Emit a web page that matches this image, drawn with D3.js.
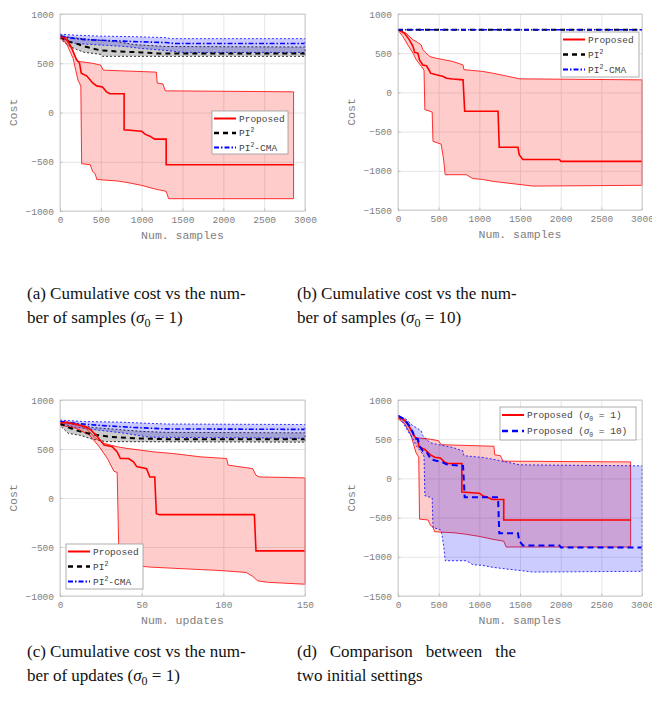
<!DOCTYPE html>
<html>
<head>
<meta charset="utf-8">
<script src="https://cdn.jsdelivr.net/npm/d3@7"></script>
<style>
  body { margin: 0; background: #fff; }
  svg { display: block; }
</style>
</head>
<body>
<svg id="fig" width="652" height="715"></svg>
<script>
// ---- data: [x, cost] points ----
// (a) / (d) sigma0 = 1, x in samples
const aPropMed = [[0,770],[50,760],[100,720],[150,640],[200,540],[240,500],[260,400],[330,370],[370,330],[400,300],[450,270],[520,260],[570,210],[610,190],[785,190],[785,-175],[1000,-190],[1040,-220],[1100,-240],[1160,-270],[1300,-270],[1300,-530],[2860,-530]];
const aPropUp = [[0,780],[80,760],[130,680],[170,600],[210,520],[400,500],[500,480],[530,430],[1180,410],[1190,300],[1260,290],[1290,220],[2860,210]];
const aPropLow = [[0,760],[80,700],[160,550],[220,330],[255,270],[265,-520],[370,-530],[400,-600],[430,-620],[450,-680],[700,-695],[820,-710],[1000,-740],[1180,-780],[1300,-800],[1330,-875],[2860,-875]];
const aPi2Med = [[0,770],[100,720],[200,700],[300,670],[400,650],[500,630],[700,620],[1000,610],[1200,600],[3000,600]];
const aPi2Up = [[0,780],[150,760],[400,740],[700,720],[900,690],[1100,680],[1300,670],[3000,665]];
const aPi2Low = [[0,750],[100,680],[200,640],[300,610],[500,590],[520,570],[3000,570]];
const aCmaMed = [[0,780],[100,760],[300,740],[600,730],[900,720],[1300,710],[1400,700],[3000,700]];
const aCmaUp = [[0,795],[200,785],[500,775],[900,770],[1300,760],[1350,750],[3000,750]];
const aCmaLow = [[0,760],[100,720],[200,700],[400,690],[800,670],[1000,650],[1300,630],[1500,610],[3000,610]];

// (b) / (d) sigma0 = 10, x in samples
const bPropMed = [[0,800],[80,755],[140,670],[185,585],[205,510],[245,500],[265,415],[305,350],[350,340],[390,270],[400,245],[470,225],[550,205],[595,180],[675,170],[800,160],[820,-240],[1230,-240],[1245,-700],[1475,-700],[1490,-795],[1535,-855],[1985,-855],[2005,-880],[3000,-880]];
const bPropUp = [[0,800],[100,755],[185,670],[225,648],[285,606],[305,545],[350,500],[390,457],[470,436],[675,394],[800,350],[810,290],[1045,267],[1165,245],[1330,210],[1495,173],[3000,160]];
const bPropLow = [[0,795],[60,712],[120,606],[185,500],[225,415],[290,330],[320,280],[330,-220],[420,-250],[430,-625],[530,-660],[560,-850],[580,-1050],[840,-1050],[920,-1100],[1040,-1110],[1170,-1135],[1330,-1155],[1500,-1175],[1660,-1195],[3000,-1185]];
const bPi2Med = [[0,800],[3000,800]];
const bCmaMed = [[0,800],[3000,800]];

// (c) sigma0 = 1, x in updates
const cPropMed = [[0,765],[4,772],[10,750],[16,727],[19,693],[22,642],[27,540],[32,523],[35,470],[37,403],[42,403],[45,370],[47,320],[53,300],[55,215],[58,215],[59,-160],[61,-170],[119,-170],[120,-540],[150,-540]];
const cPropUp = [[0,780],[10,762],[16,710],[22,608],[27,557],[35,523],[41,506],[49,489],[57,471],[69,454],[86,420],[102,403],[103,335],[118,300],[120,232],[122,215],[150,205]];
const cPropLow = [[0,745],[10,710],[18,642],[24,523],[29,403],[33,274],[35,260],[36,-550],[40,-680],[55,-705],[73,-720],[98,-740],[114,-760],[118,-800],[121,-845],[127,-860],[150,-880]];
const cPi2Med = [[0,760],[5,720],[12,680],[20,650],[30,625],[45,610],[65,600],[150,600]];
const cPi2Up = [[0,775],[10,750],[20,720],[35,700],[50,680],[65,670],[150,665]];
const cPi2Low = [[0,740],[5,660],[12,640],[20,600],[28,575],[150,570]];
const cCmaMed = [[0,780],[10,760],[25,740],[45,720],[65,705],[150,700]];
const cCmaUp = [[0,795],[15,780],[35,775],[65,755],[150,750]];
const cCmaLow = [[0,760],[10,720],[25,690],[40,660],[55,620],[150,610]];

// ticks
const sampleTicks = [0, 500, 1000, 1500, 2000, 2500, 3000];
const updateTicks = [0, 50, 100, 150];
const costTicksA = [-1000, -500, 0, 500, 1000];
const costTicksB = [-1500, -1000, -500, 0, 500, 1000];

const mono = "'Liberation Mono', 'Courier New', monospace";
const serif = "'Liberation Serif', 'Times New Roman', Times, serif";
const gridColor = "#e6e6e6";
const boxColor = "#c0c0c0";
const tickText = "#808080";

const RED = "#ff0000", BLUE = "#0000ff", BLACK = "#000000";

const svg = d3.select("#fig");

// styles for the three methods
const prop = { color: RED, width: 1.6, dash: null, edgeDash: null, fill: "rgba(255,0,0,0.2)" };
const pi2 = { color: BLACK, width: 2, dash: "5,4", edgeDash: "2,2", fill: "rgba(0,0,0,0.2)" };
const cma = { color: BLUE, width: 1.6, dash: "5,2,1.5,2", edgeDash: "2,2", fill: "rgba(0,0,255,0.2)" };
const prop10 = { color: BLUE, width: 2, dash: "6,4", edgeDash: "2,2", fill: "rgba(0,0,255,0.2)" };

function addLabel(sel, parts) {
  parts.forEach(([t, kind]) => {
    const ts = sel.append("tspan").text(t);
    if (kind === "sup") ts.attr("font-size", "6.5px").attr("baseline-shift", "4px");
    if (kind === "sub") ts.attr("font-size", "6.5px").attr("baseline-shift", "-3px");
    if (kind === "it") ts.attr("font-style", "italic").attr("font-family", serif).attr("font-size", "10.5px");
  });
}

function panel(p) {
  const g = svg.append("g");
  const x = d3.scaleLinear().domain(p.xDomain).range([p.left, p.right]);
  const y = d3.scaleLinear().domain(p.yDomain).range([p.bottom, p.top]);
  const w = p.right - p.left, h = p.bottom - p.top;
  const fmt = d3.format("d");

  // grid
  g.append("g")
    .attr("transform", `translate(0,${p.bottom})`)
    .call(d3.axisBottom(x).tickValues(p.xTicks).tickSize(-h).tickFormat(""))
    .call(s => s.select(".domain").remove())
    .selectAll("line").attr("stroke", gridColor);
  g.append("g")
    .attr("transform", `translate(${p.left},0)`)
    .call(d3.axisLeft(y).tickValues(p.yTicks).tickSize(-w).tickFormat(""))
    .call(s => s.select(".domain").remove())
    .selectAll("line").attr("stroke", gridColor);

  const clipId = "clip" + p.id;
  g.append("clipPath").attr("id", clipId)
    .append("rect").attr("x", p.left).attr("y", p.top - 2).attr("width", w + 1).attr("height", h + 4);
  const plot = g.append("g").attr("clip-path", `url(#${clipId})`);

  const line = d3.line().x(d => x(d[0])).y(d => y(d[1]));

  // bands: upper edge forward, lower edge back, closed
  p.series.filter(s => s.up).forEach(s => {
    plot.append("path")
      .attr("d", line(s.up.concat(s.low.slice().reverse())) + "Z")
      .attr("fill", s.style.fill)
      .attr("stroke", s.style.color)
      .attr("stroke-width", 0.8)
      .attr("stroke-dasharray", s.style.edgeDash);
  });
  // median lines
  p.series.forEach(s => {
    plot.append("path")
      .attr("d", line(s.med))
      .attr("fill", "none")
      .attr("stroke", s.style.color)
      .attr("stroke-width", s.style.width)
      .attr("stroke-dasharray", s.style.dash);
  });

  // box
  g.append("rect")
    .attr("x", p.left).attr("y", p.top).attr("width", w).attr("height", h)
    .attr("fill", "none").attr("stroke", boxColor).attr("stroke-width", 0.8);

  // axes with inward ticks
  const xa = g.append("g")
    .attr("transform", `translate(0,${p.bottom})`)
    .call(d3.axisBottom(x).tickValues(p.xTicks).tickFormat(fmt).tickSize(-2.5).tickPadding(5));
  const ya = g.append("g")
    .attr("transform", `translate(${p.left},0)`)
    .call(d3.axisLeft(y).tickValues(p.yTicks).tickFormat(fmt).tickSize(-2.5).tickPadding(6));
  [xa, ya].forEach(a => {
    a.select(".domain").remove();
    a.selectAll("line").attr("stroke", boxColor);
    a.selectAll("text").attr("fill", tickText).attr("font-family", mono).attr("font-size", "9.5px");
  });

  g.append("text")
    .attr("x", (p.left + p.right) / 2).attr("y", p.bottom + 28)
    .attr("text-anchor", "middle")
    .attr("font-family", mono).attr("font-size", "11.5px").attr("fill", tickText)
    .text(p.xLabel);
  g.append("text")
    .attr("transform", `translate(${p.left - 47},${(p.top + p.bottom) / 2}) rotate(-90)`)
    .attr("text-anchor", "middle").attr("dy", "0.35em")
    .attr("font-family", mono).attr("font-size", "11.5px").attr("fill", tickText)
    .text("Cost");

  // legend
  const L = p.legend;
  const lg = g.append("g").attr("transform", `translate(${L.x},${L.y})`);
  lg.append("rect").attr("width", L.w).attr("height", L.h)
    .attr("fill", "#fff").attr("stroke", "#9a9a9a").attr("stroke-width", 0.8);
  L.rows.forEach((r, i) => {
    const ry = L.y0 + i * L.dy;
    lg.append("line")
      .attr("x1", 2).attr("x2", 24).attr("y1", ry).attr("y2", ry)
      .attr("stroke", r.style.color).attr("stroke-width", r.style.width + 0.4)
      .attr("stroke-dasharray", r.style.dash);
    const t = lg.append("text")
      .attr("x", 27).attr("y", ry).attr("dy", "0.35em")
      .attr("font-family", mono).attr("font-size", "9.5px").attr("fill", "#444");
    addLabel(t, r.label);
  });
}

const propLabel = [["Proposed"]];
const pi2Label = [["PI"], ["2", "sup"]];
const cmaLabel = [["PI"], ["2", "sup"], ["-CMA"]];

panel({
  id: "a", left: 60, right: 305, top: 14, bottom: 211,
  xDomain: [0, 3000], xTicks: sampleTicks, yDomain: [-1000, 1000], yTicks: costTicksA,
  xLabel: "Num. samples",
  series: [
    { med: aPi2Med, up: aPi2Up, low: aPi2Low, style: pi2 },
    { med: aCmaMed, up: aCmaUp, low: aCmaLow, style: cma },
    { med: aPropMed, up: aPropUp, low: aPropLow, style: prop }
  ],
  legend: { x: 212, y: 111, w: 76, h: 43, y0: 7.5, dy: 14.5,
    rows: [{ style: prop, label: propLabel }, { style: pi2, label: pi2Label }, { style: cma, label: cmaLabel }] }
});

panel({
  id: "b", left: 398, right: 642, top: 14, bottom: 210,
  xDomain: [0, 3000], xTicks: sampleTicks, yDomain: [-1500, 1000], yTicks: costTicksB,
  xLabel: "Num. samples",
  series: [
    { med: bPropMed, up: bPropUp, low: bPropLow, style: prop },
    { med: bPi2Med, style: pi2 },
    { med: bCmaMed, style: cma }
  ],
  legend: { x: 561, y: 32, w: 78, h: 45, y0: 7.5, dy: 15,
    rows: [{ style: prop, label: propLabel }, { style: pi2, label: pi2Label }, { style: cma, label: cmaLabel }] }
});

panel({
  id: "c", left: 60, right: 305, top: 400, bottom: 596,
  xDomain: [0, 150], xTicks: updateTicks, yDomain: [-1000, 1000], yTicks: costTicksA,
  xLabel: "Num. updates",
  series: [
    { med: cPi2Med, up: cPi2Up, low: cPi2Low, style: pi2 },
    { med: cCmaMed, up: cCmaUp, low: cCmaLow, style: cma },
    { med: cPropMed, up: cPropUp, low: cPropLow, style: prop }
  ],
  legend: { x: 66, y: 544, w: 77, h: 45, y0: 7.5, dy: 15,
    rows: [{ style: prop, label: propLabel }, { style: pi2, label: pi2Label }, { style: cma, label: cmaLabel }] }
});

panel({
  id: "d", left: 398, right: 642, top: 400, bottom: 596,
  xDomain: [0, 3000], xTicks: sampleTicks, yDomain: [-1500, 1000], yTicks: costTicksB,
  xLabel: "Num. samples",
  series: [
    { med: aPropMed, up: aPropUp, low: aPropLow, style: prop },
    { med: bPropMed, up: bPropUp, low: bPropLow, style: prop10 }
  ],
  legend: { x: 500, y: 407, w: 136, h: 33, y0: 8, dy: 16,
    rows: [
      { style: prop, label: [["Proposed ("], ["σ", "it"], ["0", "sub"], [" = 1)"]] },
      { style: prop10, label: [["Proposed ("], ["σ", "it"], ["0", "sub"], [" = 10)"]] }
    ] }
});

// ---- captions ----
function caption(x0, y0, lines, justifyWidth) {
  lines.forEach((parts, i) => {
    const t = svg.append("text")
      .attr("x", x0).attr("y", y0 + i * 24)
      .attr("font-family", serif).attr("font-size", "17px").attr("fill", "#111");
    parts.forEach(([s, kind]) => {
      const ts = t.append("tspan").text(s);
      if (kind === "it") ts.attr("font-style", "italic");
      if (kind === "sub") ts.attr("font-size", "12px").attr("baseline-shift", "-3.5px");
    });
    if (justifyWidth && i === 0) {
      const full = parts.map(d => d[0]).join("");
      const gaps = (full.match(/ /g) || []).length;
      const len = t.node().getComputedTextLength();
      t.attr("word-spacing", Math.max(0, (justifyWidth - len) / gaps));
    }
  });
}

caption(27, 299, [
  [["(a) Cumulative cost vs the num-"]],
  [["ber of samples ("], ["σ", "it"], ["0", "sub"], [" = 1)"]]
]);
caption(297, 299, [
  [["(b) Cumulative cost vs the num-"]],
  [["ber of samples ("], ["σ", "it"], ["0", "sub"], [" = 10)"]]
]);
caption(27, 657, [
  [["(c) Cumulative cost vs the num-"]],
  [["ber of updates ("], ["σ", "it"], ["0", "sub"], [" = 1)"]]
]);
caption(297, 657, [
  [["(d) Comparison between the"]],
  [["two initial settings"]]
], 219);
</script>
</body>
</html>
